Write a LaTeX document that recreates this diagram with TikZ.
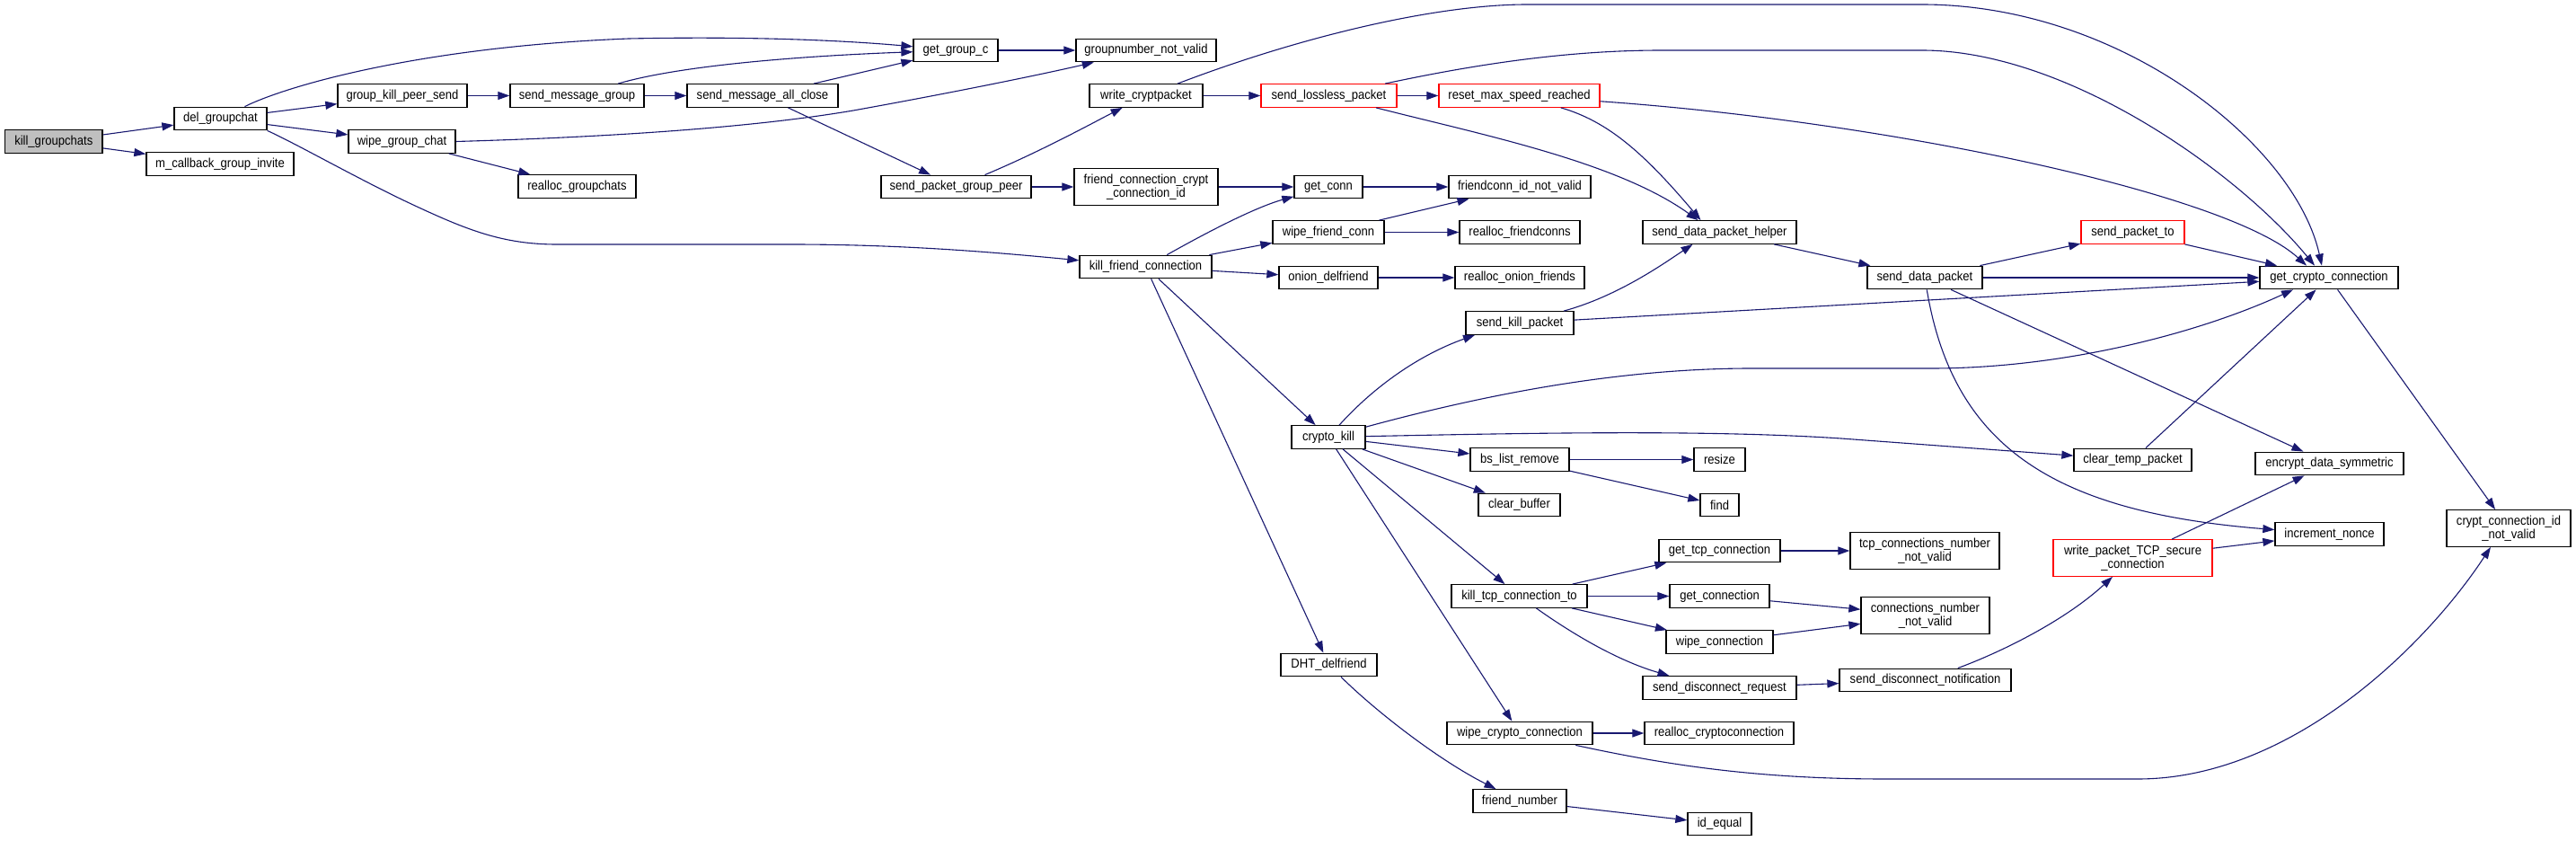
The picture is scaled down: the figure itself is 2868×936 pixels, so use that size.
\documentclass[tikz,border=0pt]{standalone}
\usepackage{fontspec}
\setmainfont{Liberation Sans}[FakeStretch=0.9]
\usetikzlibrary{arrows.meta}
\definecolor{edgecol}{HTML}{191970}
\definecolor{grayfill}{HTML}{BFBFBF}
\definecolor{redline}{HTML}{FF0000}
\begin{document}
\begin{tikzpicture}[x=1pt,y=-1pt,
  box/.style={draw=black, fill=white, line width=1.3pt, inner sep=0pt, minimum height=25.5pt,
    align=center, font=\fontsize{14.5}{15}\selectfont},
  two/.style={minimum height=40.5pt},
  redbox/.style={box, draw=redline},
  rootbox/.style={box, fill=grayfill},
  cl/.style={draw=edgecol, line width=1.1pt, -{Triangle[length=13pt,width=9pt]}}]
\useasboundingbox (0,0) rectangle (2868,936);
\path[fill=white] (0,0) rectangle (2868,936);

% nodes
\node[rootbox, minimum width=108.5pt] (kgc) at (59.8,157.5) {kill\_groupchats};
\node[box, minimum width=103pt] (dgc) at (245.5,132) {del\_groupchat};
\node[box, minimum width=164pt] (mcb) at (245,182.5) {m\_callback\_group\_invite};
\node[box, minimum width=144pt] (gkps) at (448,106.5) {group\_kill\_peer\_send};
\node[box, minimum width=149pt] (smg) at (642.5,106.5) {send\_message\_group};
\node[box, minimum width=119pt] (wgc) at (447.5,157.5) {wipe\_group\_chat};
\node[box, minimum width=131pt] (rgc) at (642.5,207.5) {realloc\_groupchats};
\node[box, minimum width=94pt] (ggc) at (1064,56) {get\_group\_c};
\node[box, minimum width=156pt] (gnv) at (1276,56) {groupnumber\_not\_valid};
\node[box, minimum width=168pt] (smac) at (849,106.5) {send\_message\_all\_close};
\node[box, minimum width=126pt] (wcp) at (1276,106.5) {write\_cryptpacket};
\node[box, minimum width=167pt] (spgp) at (1064.5,208) {send\_packet\_group\_peer};
\node[box, two, minimum width=160pt] (fcc) at (1276,208) {friend\_connection\_crypt\\\_connection\_id};
\node[box, minimum width=147pt] (kfc) at (1275.5,297) {kill\_friend\_connection};
\node[redbox, minimum width=151pt] (slp) at (1479.5,106.5) {send\_lossless\_packet};
\node[redbox, minimum width=179pt] (rmsr) at (1691.5,106.5) {reset\_max\_speed\_reached};
\node[box, minimum width=76pt] (gconn) at (1479,208) {get\_conn};
\node[box, minimum width=158pt] (fidnv) at (1692,208) {friendconn\_id\_not\_valid};
\node[box, minimum width=124pt] (wfc) at (1479,258.5) {wipe\_friend\_conn};
\node[box, minimum width=134pt] (rfc) at (1692,258.5) {realloc\_friendconns};
\node[box, minimum width=171pt] (sdph) at (1914.5,258.5) {send\_data\_packet\_helper};
\node[box, minimum width=110pt] (odf) at (1479,309) {onion\_delfriend};
\node[box, minimum width=144pt] (rof) at (1692,309) {realloc\_onion\_friends};
\node[box, minimum width=128pt] (sdp) at (2143,309) {send\_data\_packet};
\node[redbox, minimum width=115pt] (spt) at (2374.5,258.5) {send\_packet\_to};
\node[box, minimum width=154pt] (gcc) at (2593,309) {get\_crypto\_connection};
\node[box, minimum width=120pt] (skp) at (1692,359.5) {send\_kill\_packet};
\node[box, minimum width=82pt] (ck) at (1479,486.5) {crypto\_kill};
\node[box, minimum width=110pt] (blr) at (1692,511.5) {bs\_list\_remove};
\node[box, minimum width=57pt] (rsz) at (1914.5,511.5) {resize};
\node[box, minimum width=91pt] (cb) at (1691.5,562) {clear\_buffer};
\node[box, minimum width=43pt] (fnd) at (1914.5,562) {find};
\node[box, minimum width=135pt] (gtc) at (1914.5,613) {get\_tcp\_connection};
\node[box, two, minimum width=166pt] (tcnnv) at (2143,613) {tcp\_connections\_number\\\_not\_valid};
\node[box, minimum width=151pt] (ktct) at (1691.5,663.5) {kill\_tcp\_connection\_to};
\node[box, minimum width=111pt] (gcn) at (1914.5,663.5) {get\_connection};
\node[box, two, minimum width=143pt] (cnnv) at (2143.5,685) {connections\_number\\\_not\_valid};
\node[box, minimum width=119pt] (wcn) at (1914.5,714.5) {wipe\_connection};
\node[box, minimum width=171pt] (sdr) at (1914.5,765.5) {send\_disconnect\_request};
\node[box, minimum width=191pt] (sdn) at (2143.5,757) {send\_disconnect\_notification};
\node[box, minimum width=107pt] (dhtd) at (1479.5,740) {DHT\_delfriend};
\node[box, minimum width=162pt] (wcc) at (1692,816) {wipe\_crypto\_connection};
\node[box, minimum width=166pt] (rcc) at (1914,816) {realloc\_cryptoconnection};
\node[box, minimum width=104pt] (fn) at (1692,891.5) {friend\_number};
\node[box, minimum width=71pt] (ideq) at (1914.5,917) {id\_equal};
\node[box, minimum width=131pt] (ctp) at (2374.5,512) {clear\_temp\_packet};
\node[box, minimum width=165pt] (eds) at (2593.5,516) {encrypt\_data\_symmetric};
\node[box, minimum width=121pt] (inon) at (2593.5,594.5) {increment\_nonce};
\node[box, two, minimum width=138pt] (ccinv) at (2793,588) {crypt\_connection\_id\\\_not\_valid};
\node[redbox, two, minimum width=177pt] (wptsc) at (2374.5,621) {write\_packet\_TCP\_secure\\\_connection};

% connectors
\draw[cl] (kgc) -- (dgc);
\draw[cl] (kgc) -- (mcb);
\draw[cl] (dgc) .. controls (320,95) and (470,52) .. (700,43) .. controls (850,40) and (950,46) .. (ggc);
\draw[cl] (dgc) -- (gkps);
\draw[cl] (dgc) -- (wgc);
\draw[cl] (dgc.south east) .. controls (330,160) and (400,200) .. (460,228) .. controls (520,256) and (560,272) .. (620,272) -- (880,272) .. controls (1000,272) and (1100,280) .. (kfc);
\draw[cl] (gkps) -- (smg);
\draw[cl] (smg) .. controls (760,72) and (900,62) .. (ggc);
\draw[cl] (smg) -- (smac);
\draw[cl] (smac) -- (ggc);
\draw[cl] (smac) -- (spgp);
\draw[cl] (wgc.east) .. controls (700,152) and (850,140) .. (950,123) .. controls (1050,105) and (1150,85) .. (gnv);
\draw[cl] (wgc) -- (rgc);
\draw[cl] (ggc) -- (gnv);
\draw[cl] (spgp) .. controls (1160,168) and (1220,135) .. (wcp);
\draw[cl] (spgp) -- (fcc);
\draw[cl] (wcp) -- (slp);
\draw[cl] (wcp) .. controls (1450,40) and (1600,5) .. (1700,5) -- (2140,5) .. controls (2360,5) and (2555,160) .. ([xshift=-8]gcc.north);
\draw[cl] (slp) -- (rmsr);
\draw[cl] (slp) .. controls (1650,70) and (1750,56) .. (1850,56) -- (2140,56) .. controls (2300,56) and (2490,190) .. ([xshift=-16]gcc.north);
\draw[cl] (slp) .. controls (1650,150) and (1800,180) .. ([xshift=-24]sdph.north);
\draw[cl] (rmsr) .. controls (1790,135) and (1830,170) .. ([xshift=-21]sdph.north);
\draw[cl] (rmsr) .. controls (2100,135) and (2480,215) .. ([xshift=-25]gcc.north);
\draw[cl] (fcc) -- (gconn);
\draw[cl] (kfc) .. controls (1350,255) and (1400,230) .. (gconn);
\draw[cl] (kfc) -- (wfc);
\draw[cl] (kfc) -- (odf);
\draw[cl] (kfc) -- (ck);
\draw[cl] (kfc) -- (dhtd);
\draw[cl] (gconn) -- (fidnv);
\draw[cl] (wfc) -- (fidnv);
\draw[cl] (wfc) -- (rfc);
\draw[cl] (odf) -- (rof);
\draw[cl] (sdph) -- (sdp);
\draw[cl] (sdp) -- (spt);
\draw[cl] (sdp) -- (gcc);
\draw[cl] (sdp) -- (eds);
\draw[cl] (sdp) .. controls (2175,500) and (2290,570) .. (inon);
\draw[cl] (spt) -- (gcc);
\draw[cl] (skp) .. controls (1800,330) and (1850,295) .. ([xshift=-30]sdph.south);
\draw[cl] (skp) -- (gcc);
\draw[cl] (ck) .. controls (1530,430) and (1580,395) .. ([xshift=-50]skp.south);
\draw[cl] (ck) .. controls (1650,440) and (1800,410) .. (1950,410) -- (2150,410) .. controls (2300,410) and (2450,370) .. ([xshift=-40]gcc.south);
\draw[cl] (ck) .. controls (1700,482) and (1900,478) .. (2050,488) -- (ctp);
\draw[cl] (ck) -- (blr);
\draw[cl] (ck) -- (cb);
\draw[cl] (ck) -- (ktct);
\draw[cl] (ck) -- (wcc);
\draw[cl] (blr) -- (rsz);
\draw[cl] (blr) -- (fnd);
\draw[cl] (ctp) -- (gcc);
\draw[cl] (gcc) -- (ccinv);
\draw[cl] (ktct) -- (gtc);
\draw[cl] (ktct) -- (gcn);
\draw[cl] (ktct) -- (wcn);
\draw[cl] (ktct) .. controls (1750,705) and (1800,735) .. ([xshift=-56]sdr.north);
\draw[cl] (gtc) -- (tcnnv);
\draw[cl] (gcn) -- (cnnv);
\draw[cl] (wcn) -- (cnnv);
\draw[cl] (sdr) -- (sdn);
\draw[cl] (sdn) .. controls (2230,725) and (2300,690) .. (wptsc);
\draw[cl] (wptsc) -- (eds);
\draw[cl] (wptsc) -- (inon);
\draw[cl] (wcc) -- (rcc);
\draw[cl] (wcc) .. controls (1850,850) and (1950,867) .. (2100,867) -- (2380,867) .. controls (2550,867) and (2700,720) .. ([xshift=-20]ccinv.south);
\draw[cl] (dhtd) .. controls (1530,790) and (1600,845) .. (fn);
\draw[cl] (fn) -- (ideq);
\end{tikzpicture}
\end{document}
